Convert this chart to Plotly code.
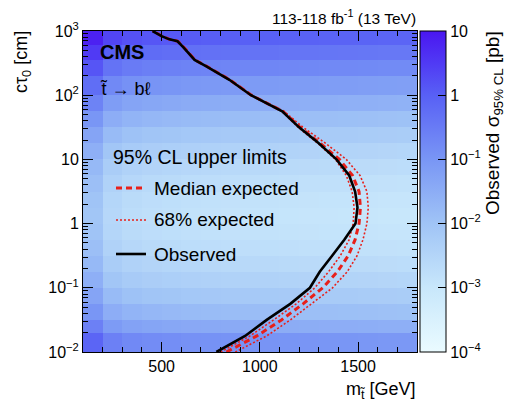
import plotly.graph_objects as go

# ---------------- data ----------------
# heatmap bins
mass_edges = [100, 200, 300, 400, 500, 600, 700, 800, 900, 1000, 1100, 1200,
              1300, 1400, 1500, 1600, 1700, 1800]
ctau_edges_log10 = [-2.0, -1.7, -1.5, -1.25, -1.0, -0.75, -0.5, -0.25, 0.0, 0.25,
                    0.5, 0.75, 1.0, 1.25, 1.5, 1.75, 2.0, 2.3, 2.55, 2.78, 3.0]
# observed 95% CL cross-section limit, log10(sigma / pb); rows = ctau bins (bottom->top)
obs_xsec_log10 = [
    [-0.10, -0.60, -0.75, -0.82, -0.86, -0.90, -0.92, -0.94, -0.95, -0.96, -0.98, -0.99, -1.00, -1.01, -1.02, -1.04, -1.05],
    [-0.60, -1.10, -1.25, -1.32, -1.36, -1.40, -1.42, -1.44, -1.45, -1.46, -1.48, -1.49, -1.50, -1.51, -1.52, -1.54, -1.55],
    [-1.00, -1.50, -1.65, -1.72, -1.76, -1.80, -1.82, -1.84, -1.85, -1.86, -1.88, -1.89, -1.90, -1.91, -1.92, -1.94, -1.95],
    [-1.30, -1.80, -1.95, -2.02, -2.06, -2.10, -2.12, -2.14, -2.15, -2.16, -2.18, -2.19, -2.20, -2.21, -2.22, -2.24, -2.25],
    [-1.55, -2.05, -2.20, -2.27, -2.31, -2.35, -2.37, -2.39, -2.40, -2.41, -2.43, -2.44, -2.45, -2.46, -2.47, -2.49, -2.50],
    [-1.75, -2.25, -2.40, -2.47, -2.51, -2.55, -2.57, -2.59, -2.60, -2.61, -2.63, -2.64, -2.65, -2.66, -2.67, -2.69, -2.70],
    [-1.90, -2.40, -2.55, -2.62, -2.66, -2.70, -2.72, -2.74, -2.75, -2.76, -2.78, -2.79, -2.80, -2.81, -2.82, -2.84, -2.85],
    [-2.00, -2.50, -2.65, -2.72, -2.76, -2.80, -2.82, -2.84, -2.85, -2.86, -2.88, -2.89, -2.90, -2.91, -2.92, -2.94, -2.95],
    [-2.05, -2.55, -2.70, -2.77, -2.81, -2.85, -2.87, -2.89, -2.90, -2.91, -2.93, -2.94, -2.95, -2.96, -2.97, -2.99, -3.00],
    [-2.00, -2.50, -2.65, -2.72, -2.76, -2.80, -2.82, -2.84, -2.85, -2.86, -2.88, -2.89, -2.90, -2.91, -2.92, -2.94, -2.95],
    [-1.90, -2.40, -2.55, -2.62, -2.66, -2.70, -2.72, -2.74, -2.75, -2.76, -2.78, -2.79, -2.80, -2.81, -2.82, -2.84, -2.85],
    [-1.75, -2.25, -2.40, -2.47, -2.51, -2.55, -2.57, -2.59, -2.60, -2.61, -2.63, -2.64, -2.65, -2.66, -2.67, -2.69, -2.70],
    [-1.55, -2.05, -2.20, -2.27, -2.31, -2.35, -2.37, -2.39, -2.40, -2.41, -2.43, -2.44, -2.45, -2.46, -2.47, -2.49, -2.50],
    [-1.30, -1.80, -1.95, -2.02, -2.06, -2.10, -2.12, -2.14, -2.15, -2.16, -2.18, -2.19, -2.20, -2.21, -2.22, -2.24, -2.25],
    [-1.00, -1.50, -1.65, -1.72, -1.76, -1.80, -1.82, -1.84, -1.85, -1.86, -1.88, -1.89, -1.90, -1.91, -1.92, -1.94, -1.95],
    [-0.65, -1.15, -1.30, -1.37, -1.41, -1.45, -1.47, -1.49, -1.50, -1.51, -1.53, -1.54, -1.55, -1.56, -1.57, -1.59, -1.60],
    [-0.25, -0.75, -0.90, -0.97, -1.01, -1.05, -1.07, -1.09, -1.10, -1.11, -1.13, -1.14, -1.15, -1.16, -1.17, -1.19, -1.20],
    [0.15, -0.35, -0.50, -0.57, -0.61, -0.65, -0.67, -0.69, -0.70, -0.71, -0.73, -0.74, -0.75, -0.76, -0.77, -0.79, -0.80],
    [0.50, 0.00, -0.15, -0.22, -0.26, -0.30, -0.32, -0.34, -0.35, -0.36, -0.38, -0.39, -0.40, -0.41, -0.42, -0.44, -0.45],
    [0.85, 0.35, 0.20, 0.13, 0.09, 0.05, 0.03, 0.01, 0.00, -0.01, -0.03, -0.04, -0.05, -0.06, -0.07, -0.09, -0.10],
]

# exclusion contours: ctau [cm] and mass [GeV]
curve_ctau = [0.01, 0.0178, 0.0316, 0.0562, 0.1, 0.178, 0.316, 0.562, 1.0, 1.78, 3.16,
              5.62, 10.0, 17.8, 31.6, 56.2, 100.0, 174.0, 282.0, 355.0, 562.0, 692.0,
              741.0, 832.0, 1000.0]
obs_mass = [779, 925, 1035, 1155, 1255, 1305, 1368, 1430, 1487, 1497, 1485, 1455,
            1390, 1300, 1200, 1114, 955, 845, 728, 668, 610, 581, 540, 500, 454]
exp_mass = [830, 985, 1110, 1220, 1320, 1395, 1450, 1485, 1505, 1512, 1505, 1472,
            1405, 1308, 1205, 1117, 957, 847, 730, 670, 612, 583, 542, 502, 456]
exp_lo_mass = [800, 950, 1070, 1185, 1280, 1350, 1410, 1455, 1475, 1480, 1470, 1440,
               1385, 1295, 1195, 1112, 952, 843, 727, 667, 609, 580, 539, 499, 453]
exp_hi_mass = [875, 1035, 1155, 1265, 1370, 1445, 1495, 1525, 1545, 1552, 1545, 1510,
               1440, 1335, 1220, 1122, 960, 850, 733, 672, 614, 585, 544, 504, 458]

cbar_tickvals = [-4, -3, -2, -1, 0, 1]
cbar_ticktext = ["10<sup>\u22124</sup>", "10<sup>\u22123</sup>", "10<sup>\u22122</sup>",
                 "10<sup>\u22121</sup>", "1", "10"]
y_tickvals = [0.01, 0.1, 1, 10, 100, 1000]
y_ticktext = ["10<sup>\u22122</sup>", "10<sup>\u22121</sup>", "1", "10",
              "10<sup>2</sup>", "10<sup>3</sup>"]

# ---------------- figure ----------------
FONT = "Liberation Sans, Arial, sans-serif"
RED = "#e8201a"

colorscale = [
    [0.0, "rgb(234,251,255)"],
    [0.2, "rgb(200,231,251)"],
    [0.4, "rgb(160,196,246)"],
    [0.6, "rgb(121,150,245)"],
    [0.8, "rgb(88,96,245)"],
    [0.9, "rgb(80,58,244)"],
    [1.0, "rgb(74,22,240)"],
]

fig = go.Figure()
fig.add_trace(go.Heatmap(
    x=mass_edges,
    y=[10 ** v for v in ctau_edges_log10],
    z=obs_xsec_log10,
    zmin=-4, zmax=1,
    colorscale=colorscale,
    showscale=True,
    hoverinfo="skip",
    colorbar=dict(
        x=(420 - 83) / 334, xanchor="left", xref="paper",
        y=0.5, yanchor="middle", len=1, lenmode="fraction",
        thickness=26, thicknessmode="pixels",
        outlinewidth=1, outlinecolor="black",
        tickvals=cbar_tickvals, ticktext=cbar_ticktext,
        ticks="inside", ticklen=8, tickcolor="black",
        tickfont=dict(family=FONT, size=16, color="black"),
        ypad=0, xpad=0,
    ),
))

fig.add_trace(go.Scatter(x=exp_lo_mass, y=curve_ctau, mode="lines",
                         line=dict(color=RED, width=1.6, dash="2px,2px"),
                         showlegend=False, hoverinfo="skip"))
fig.add_trace(go.Scatter(x=exp_hi_mass, y=curve_ctau, mode="lines",
                         line=dict(color=RED, width=1.6, dash="2px,2px"),
                         showlegend=False, hoverinfo="skip"))
fig.add_trace(go.Scatter(x=exp_mass, y=curve_ctau, mode="lines",
                         line=dict(color=RED, width=3, dash="6px,4px"),
                         showlegend=False, hoverinfo="skip"))
fig.add_trace(go.Scatter(x=obs_mass, y=curve_ctau, mode="lines",
                         line=dict(color="black", width=2.6),
                         showlegend=False, hoverinfo="skip"))

def px(x):
    return (x - 83) / 334

def py(y):
    return (352 - y) / 321

annotations = [
    dict(text="<b>CMS</b>", x=px(98), y=py(52), xanchor="left", yanchor="middle",
         font=dict(size=20)),
    dict(text="t\u0303 \u2192 b\u2113", x=px(98), y=py(89), xanchor="left", yanchor="middle",
         font=dict(size=18)),
    dict(text="113-118 fb<sup>-1</sup> (13 TeV)", x=px(418), y=py(17), xanchor="right",
         yanchor="middle", font=dict(size=15.5)),
    dict(text="c\u03c4<sub>0</sub> [cm]", x=px(22), y=py(29), xanchor="center", yanchor="top",
         textangle=-90, font=dict(size=18)),
    dict(text="m<sub>t\u0303</sub> [GeV]", x=px(418), y=py(391), xanchor="right",
         yanchor="middle", font=dict(size=18)),
    dict(text="Observed \u03c3<sub>95% CL</sub> [pb]", x=px(494), y=py(29), xanchor="center",
         yanchor="top", textangle=-90, font=dict(size=19)),
    dict(text="95% CL upper limits", x=px(111), y=py(157), xanchor="left", yanchor="middle",
         font=dict(size=19.5)),
    dict(text="Median expected", x=px(152), y=py(188), xanchor="left", yanchor="middle",
         font=dict(size=19)),
    dict(text="68% expected", x=px(152), y=py(220), xanchor="left", yanchor="middle",
         font=dict(size=19)),
    dict(text="Observed", x=px(152), y=py(254), xanchor="left", yanchor="middle",
         font=dict(size=19)),
]
for a in annotations:
    a.update(xref="paper", yref="paper", showarrow=False)
    a["font"].update(family=FONT, color="black")

shapes = [
    dict(type="line", x0=px(116), x1=px(146), y0=py(188), y1=py(188),
         line=dict(color=RED, width=3, dash="6px,4px")),
    dict(type="line", x0=px(116), x1=px(146), y0=py(220), y1=py(220),
         line=dict(color=RED, width=1.6, dash="2px,2px")),
    dict(type="line", x0=px(116), x1=px(146), y0=py(254), y1=py(254),
         line=dict(color="black", width=2.6)),
]
for s in shapes:
    s.update(xref="paper", yref="paper")

fig.update_layout(
    width=506, height=401,
    margin=dict(l=83, r=89, t=31, b=49, pad=0),
    paper_bgcolor="white", plot_bgcolor="white",
    font=dict(family=FONT, color="black"),
    showlegend=False,
    annotations=annotations,
    shapes=shapes,
    xaxis=dict(
        range=[100, 1800], tickvals=[500, 1000, 1500], ticks="inside", ticklen=10,
        tickcolor="black", showline=True, linecolor="black", linewidth=1, mirror="ticks",
        showgrid=False, zeroline=False,
        minor=dict(dtick=100, tick0=0, ticks="inside", ticklen=5, tickcolor="black", showgrid=False),
        tickfont=dict(family=FONT, size=16, color="black"),
    ),
    yaxis=dict(
        type="log", range=[-2, 3], tickvals=y_tickvals, ticktext=y_ticktext,
        ticks="inside", ticklen=10, tickcolor="black", showline=True, linecolor="black",
        linewidth=1, mirror="ticks", showgrid=False, zeroline=False,
        minor=dict(dtick="D1", ticks="inside", ticklen=5, tickcolor="black", showgrid=False),
        tickfont=dict(family=FONT, size=16, color="black"),
    ),
)

fig.write_html("out.html")
